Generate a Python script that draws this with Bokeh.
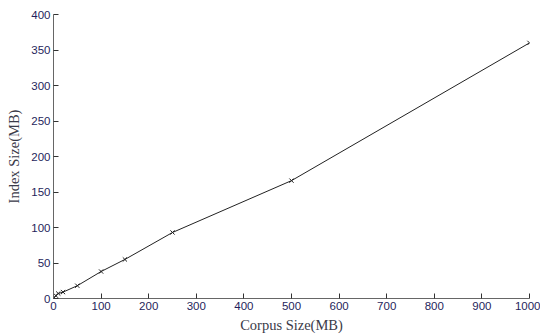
from bokeh.plotting import figure
from bokeh.models import Range1d, FixedTicker
from bokeh.embed import file_html
from bokeh.resources import INLINE

corpus_size = [1, 5, 10, 20, 50, 100, 150, 250, 500, 1000]
index_size = [1, 4, 7, 9, 18, 38, 55, 93, 166, 360]
x_ticks = [0, 100, 200, 300, 400, 500, 600, 700, 800, 900, 1000]
y_ticks = [0, 50, 100, 150, 200, 250, 300, 350, 400]

p = figure(width=540, height=336, output_backend="svg", toolbar_location=None,
           x_range=Range1d(0, 1000), y_range=Range1d(0, 400),
           min_border_left=53, min_border_right=11, min_border_top=14, min_border_bottom=38)
p.outline_line_color = None
p.xgrid.visible = False
p.ygrid.visible = False
p.background_fill_color = "white"
p.border_fill_color = "white"

p.line(corpus_size, index_size, line_color="#222222", line_width=1)
p.scatter(corpus_size, index_size, marker="x", size=6, line_color="#222222", line_width=1)

for ax in (p.xaxis[0], p.yaxis[0]):
    ax.axis_line_color = "#666666"
    ax.major_tick_line_color = "#333333"
    ax.major_tick_in = 5
    ax.major_tick_out = 0
    ax.minor_tick_line_color = None
    ax.major_label_text_font = "Liberation Sans"
    ax.major_label_text_font_size = "11.5px"
    ax.major_label_text_color = "#1f1f5c"
    ax.axis_label_text_font = "Liberation Serif"
    ax.axis_label_text_font_size = "14.5px"
    ax.axis_label_text_font_style = "normal"
    ax.axis_label_text_color = "#3a3a48"
    ax.major_label_standoff = 3
    ax.axis_label_standoff = 4

p.yaxis[0].axis_label_standoff = 6
p.xaxis[0].ticker = FixedTicker(ticks=x_ticks)
p.yaxis[0].ticker = FixedTicker(ticks=y_ticks)
p.xaxis[0].axis_label = "Corpus Size(MB)"
p.yaxis[0].axis_label = "Index Size(MB)"

open("out.html", "w").write(file_html(p, INLINE))
